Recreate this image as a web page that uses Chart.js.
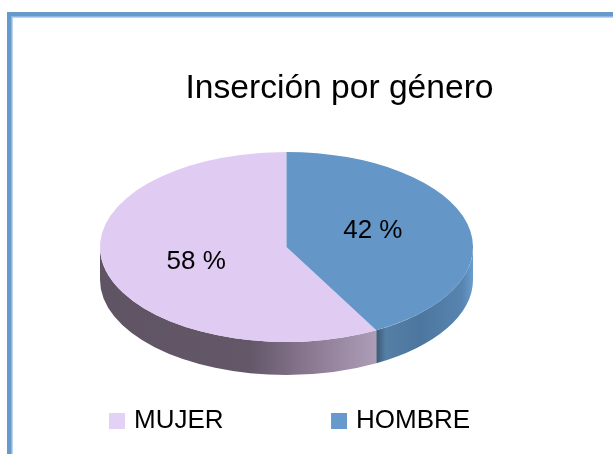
<!DOCTYPE html>
<html>
<head>
<meta charset="utf-8">
<style>
html,body{margin:0;padding:0;background:#fff;width:613px;height:454px;overflow:hidden}
.f{position:absolute;right:0;bottom:0}
#f1{left:7px;top:12px;background:#6699cc}
#f2{left:11px;top:16px;background:#8fb5e0}
#f3{left:12px;top:17px;background:#bcd3f0}
#f4{left:13px;top:18px;background:#fff}
canvas{position:absolute;left:0;top:0}
</style>
<script src="https://cdn.jsdelivr.net/npm/chart.js@4/dist/chart.umd.min.js"></script>
</head>
<body>
<div class="f" id="f1"></div><div class="f" id="f2"></div><div class="f" id="f3"></div><div class="f" id="f4"></div>
<canvas id="c" width="613" height="454"></canvas>
<script>
const categories = ["MUJER", "HOMBRE"];
const values = [58, 42];
const titleText = "Inserción por género";
const topColors = ["#e0cbf3", "#6497c8"];
const legendColors = ["#e4d1f6", "#6699cc"];
const wallStops = [
  [[100,"#5f5464"],[250,"#635768"],[300,"#84738b"],[376,"#ae9db6"]],
  [[376,"#3c5873"],[386,"#567fa6"],[420,"#4c769e"],[462,"#5784b0"],[473,"#6a9ccd"]]
];
const labelNudges = [[0,3],[-4,-4]];
const FONT = "'Liberation Sans', Arial, sans-serif";
const ELL = {x:286.5, y:247, rx:186.5, ry:95, depth:33};

const pie3d = {
  id:"pie3d",
  beforeLayout(chart){
    chart.legend.afterFit = function(){ this.height = 34; };
  },
  afterLayout(chart){
    const t = chart.titleBlock;
    t.left += 33; t.right += 33;
    const l = chart.legend;
    const p = chart.options.plugins.legend.labels.padding;
    l.left = 113 - p;
    l.top = 408 - p;
  },
  beforeDatasetsDraw(chart){
    const ctx = chart.ctx;
    const arcs = chart.getDatasetMeta(0).data;
    arcs.forEach((arc,i)=>{
      const s = arc.startAngle, e = arc.endAngle;
      [0, 2*Math.PI].forEach(k=>{
        const a0 = Math.max(s, k), a1 = Math.min(e, k+Math.PI);
        if (a1 <= a0) return;
        const g = ctx.createLinearGradient(100,0,473,0);
        wallStops[i].forEach(st=>g.addColorStop((st[0]-100)/373, st[1]));
        ctx.beginPath();
        ctx.ellipse(ELL.x,ELL.y,ELL.rx,ELL.ry,0,a0,a1);
        ctx.ellipse(ELL.x,ELL.y+ELL.depth,ELL.rx,ELL.ry,0,a1,a0,true);
        ctx.closePath();
        ctx.fillStyle = g;
        ctx.fill();
      });
    });
    const a = arcs[0];
    ctx.save();
    ctx.translate(ELL.x,ELL.y);
    ctx.scale(ELL.rx/a.outerRadius, ELL.ry/a.outerRadius);
    ctx.translate(-a.x,-a.y);
  },
  afterDatasetsDraw(chart){
    const ctx = chart.ctx;
    ctx.restore();
    chart.getDatasetMeta(0).data.forEach((arc,i)=>{
      const mid = (arc.startAngle+arc.endAngle)/2;
      const x = ELL.x + Math.cos(mid)*ELL.rx*0.5 + labelNudges[i][0];
      const y = ELL.y + Math.sin(mid)*ELL.ry*0.5 + labelNudges[i][1];
      ctx.save();
      ctx.font = "26px "+FONT;
      ctx.fillStyle = "#000";
      ctx.textAlign = "center";
      ctx.textBaseline = "middle";
      ctx.fillText(values[i]+" %", x, y);
      ctx.restore();
    });
  }
};

new Chart(document.getElementById("c"),{
  type:"pie",
  data:{labels:categories,datasets:[{data:values,backgroundColor:topColors,borderWidth:0}]},
  plugins:[pie3d],
  options:{
    responsive:false,
    animation:false,
    rotation:values[1]/100*360,
    events:[],
    layout:{padding:0},
    plugins:{
      tooltip:{enabled:false},
      title:{display:true,text:titleText,color:"#000",
        font:{family:FONT,size:33.6,weight:"normal",lineHeight:1.2},
        padding:{top:69,bottom:0}},
      legend:{display:true,position:"bottom",align:"start",
        labels:{
          color:"#000",
          font:{family:FONT,size:26},
          boxWidth:8,boxHeight:8,padding:111.5,
          generateLabels(chart){
            return categories.map((c,i)=>({text:c,fillStyle:legendColors[i],strokeStyle:legendColors[i],lineWidth:8,lineJoin:"miter",index:i,hidden:false}));
          }
        }
      }
    }
  }
});
</script>
</body>
</html>
